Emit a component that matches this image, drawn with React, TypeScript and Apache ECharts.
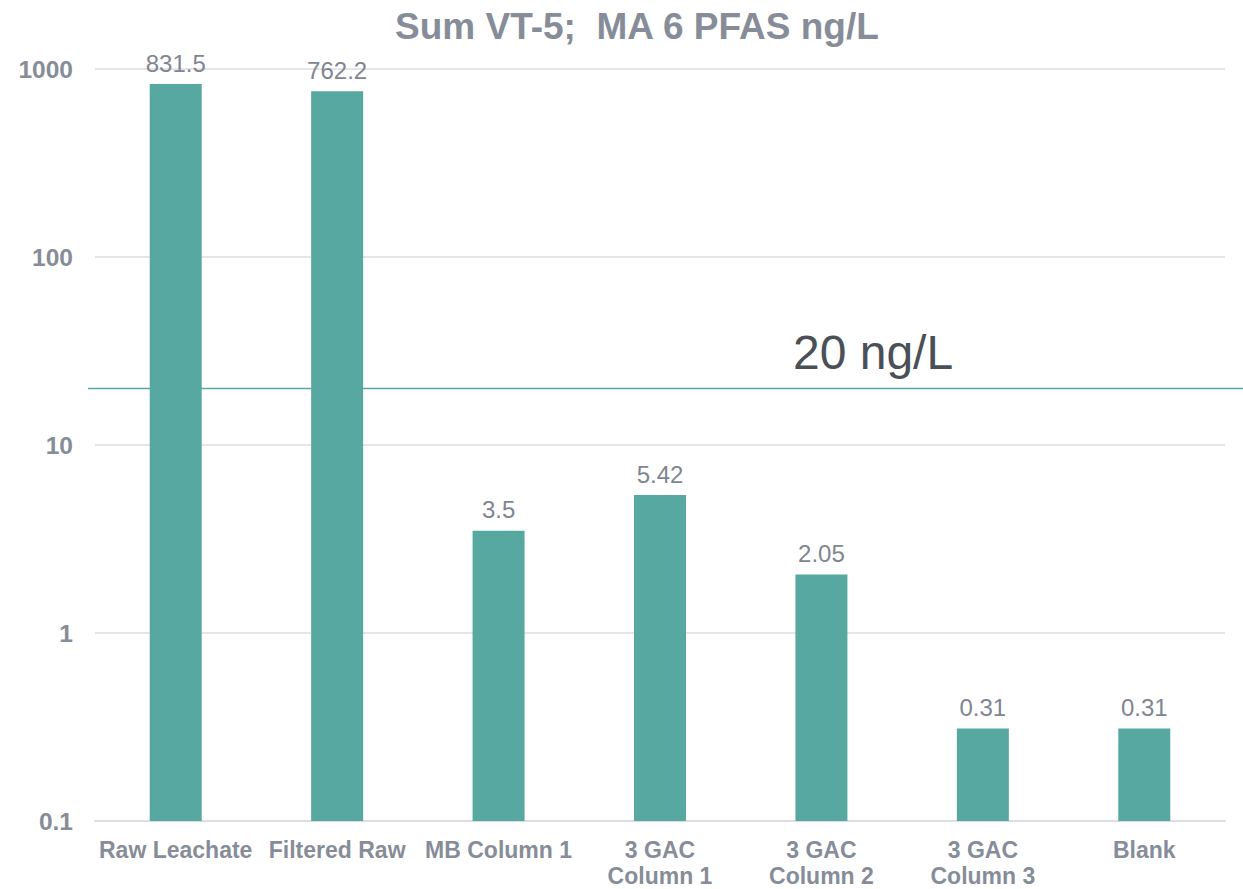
import React, { useEffect, useRef } from "react";
import * as echarts from "echarts";

const categories = ["Raw Leachate", "Filtered Raw", "MB Column 1", "3 GAC\nColumn 1", "3 GAC\nColumn 2", "3 GAC\nColumn 3", "Blank"];
const values = [831.5, 762.2, 3.5, 5.42, 2.05, 0.31, 0.31];
const valueLabels = ["831.5", "762.2", "3.5", "5.42", "2.05", "0.31", "0.31"];
const yTickLabels: Record<string, string> = { "0.1": "0.1", "1": "1", "10": "10", "100": "100", "1000": "1000" };
const thresholdValue = 20;
const thresholdLabel = "20 ng/L";
const titleText = "Sum VT-5;  MA 6 PFAS ng/L";

const FONT = "'Liberation Sans', Arial, sans-serif";
const GRAY = "#868d99";
const BAR = "#57a8a0";

export default function App() {
  const ref = useRef<HTMLDivElement>(null);
  useEffect(() => {
    document.body.style.margin = "0";
    const chart = echarts.init(ref.current!, null, { renderer: "svg" });
    chart.setOption({
      animation: false,
      title: {
        text: titleText,
        left: 390,
        top: 3,
        textStyle: { fontFamily: FONT, fontSize: 37, fontWeight: "bold", color: GRAY },
      },
      grid: { left: 95, right: 18, top: 69, bottom: 68, containLabel: false, outerBoundsMode: "none" },
      xAxis: {
        type: "category",
        data: categories,
        axisTick: { show: false },
        axisLine: { show: true, lineStyle: { color: "#dcdde2", width: 2 } },
        axisLabel: {
          interval: 0,
          margin: 16,
          fontFamily: FONT,
          fontSize: 23,
          fontWeight: "bold",
          color: GRAY,
          lineHeight: 26,
        },
      },
      yAxis: {
        type: "log",
        logBase: 10,
        min: 0.1,
        max: 1000,
        startValue: 0.1,
        axisLine: { show: false },
        axisTick: { show: false },
        splitLine: { lineStyle: { color: "#dcdde2", width: 1.5 } },
        axisLabel: {
          margin: 22,
          fontFamily: FONT,
          fontSize: 24.5,
          fontWeight: "bold",
          color: GRAY,
          formatter: (v: number) => yTickLabels[String(Number(v.toPrecision(6)))] ?? String(v),
        },
      },
      series: [
        {
          type: "bar",
          data: values,
          barWidth: 52,
          itemStyle: { color: BAR },
          label: {
            show: true,
            position: "top",
            distance: 9,
            fontFamily: FONT,
            fontSize: 24,
            color: "#7f8591",
            formatter: (p: any) => valueLabels[p.dataIndex],
          },
        },
      ],
    });
    const y = chart.convertToPixel({ yAxisIndex: 0 }, thresholdValue) as number;
    chart.setOption({
      graphic: [
        {
          type: "line",
          shape: { x1: 88, y1: y, x2: 1243, y2: y },
          style: { stroke: BAR, lineWidth: 1.5 },
          z: 10,
        },
        {
          type: "text",
          x: 793,
          y: y - 36,
          style: {
            text: thresholdLabel,
            fontFamily: FONT,
            fontSize: 48,
            fill: "#4a4f58",
            verticalAlign: "middle",
            align: "left",
          },
        },
      ],
    });
    return () => chart.dispose();
  }, []);
  return <div ref={ref} style={{ width: 1243, height: 889 }} />;
}
